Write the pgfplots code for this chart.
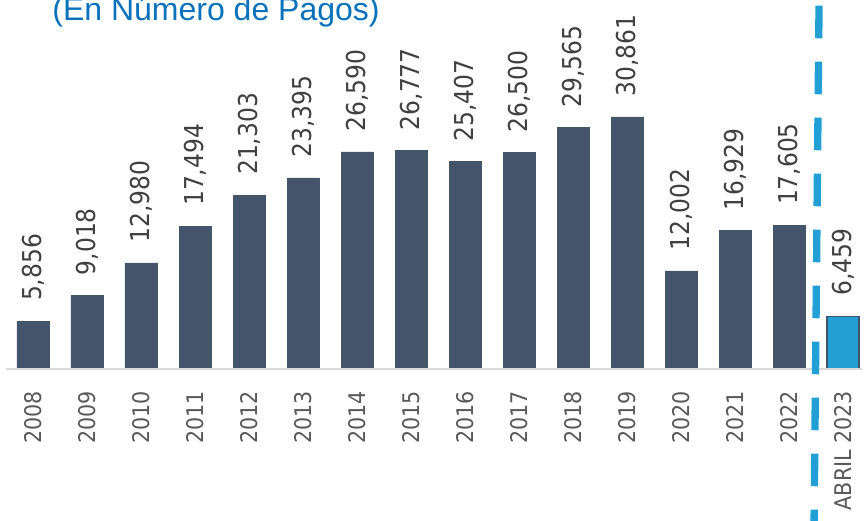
\documentclass[border=0pt]{standalone}
\usepackage{fontspec}
\setmainfont{DejaVu Sans Condensed}
\newfontfamily\titlefont{Liberation Sans}
\usepackage{pgfplots}
\pgfplotsset{compat=1.18}

\definecolor{barslate}{HTML}{44546A}
\definecolor{barblue}{HTML}{229FD5}
\definecolor{titleblue}{HTML}{0A72BA}
\definecolor{valgray}{HTML}{404040}
\definecolor{tickgray}{HTML}{595959}

\begin{document}
\begin{tikzpicture}
\begin{axis}[
  width=648.75pt, height=276.75pt, scale only axis,
  xmin=-0.611, xmax=15.407, ymin=0, ymax=45187,
  ybar, bar width=24pt, bar shift=0pt,
  axis line style={draw=none}, tick style={draw=none},
  ytick=\empty,
  xtick={0,...,15},
  xticklabels={2008,2009,2010,2011,2012,2013,2014,2015,2016,2017,2018,2019,2020,2021,2022,ABRIL 2023},
  xticklabel style={rotate=90, anchor=east, inner sep=0pt, text=tickgray, font=\fontsize{17.2}{19}\selectfont},
  xticklabel shift=12pt,
  nodes near coords={\pgfmathprintnumber[fixed,precision=0,1000 sep={,},assume math mode=true]{\pgfplotspointmeta}},
  every node near coord/.append style={rotate=90, anchor=west, inner xsep=15pt, inner ysep=0pt, text=valgray, font=\fontsize{19.5}{22}\selectfont},
  clip=false,
]
\addplot[fill=barslate, draw=barslate] coordinates {
 (0,5856) (1,9018) (2,12980) (3,17494) (4,21303) (5,23395) (6,26590) (7,26777)
 (8,25407) (9,26500) (10,29565) (11,30861) (12,12002) (13,16929) (14,17605)};
\addplot[fill=barblue, draw=barslate, line width=0.8pt] coordinates {(15,6459)};
\draw[black!15, line width=1.5pt] (axis cs:-0.5,0) -- (axis cs:15.35,0);
\draw[barblue, line width=5.5pt, dash pattern=on 24.5pt off 17.5pt] (axis cs:14.556,44500) -- (axis cs:14.463,-19500);
\node[anchor=base, text=titleblue, font=\titlefont\fontsize{24}{28}\selectfont] at (axis cs:3.389,42616) {(En Número de Pagos)};
\coordinate (bl) at (axis cs:-0.611,-18614);
\coordinate (tr) at (axis cs:15.407,45187);
\end{axis}
\pgfresetboundingbox
\path[use as bounding box] (bl) rectangle (tr);
\end{tikzpicture}
\end{document}
